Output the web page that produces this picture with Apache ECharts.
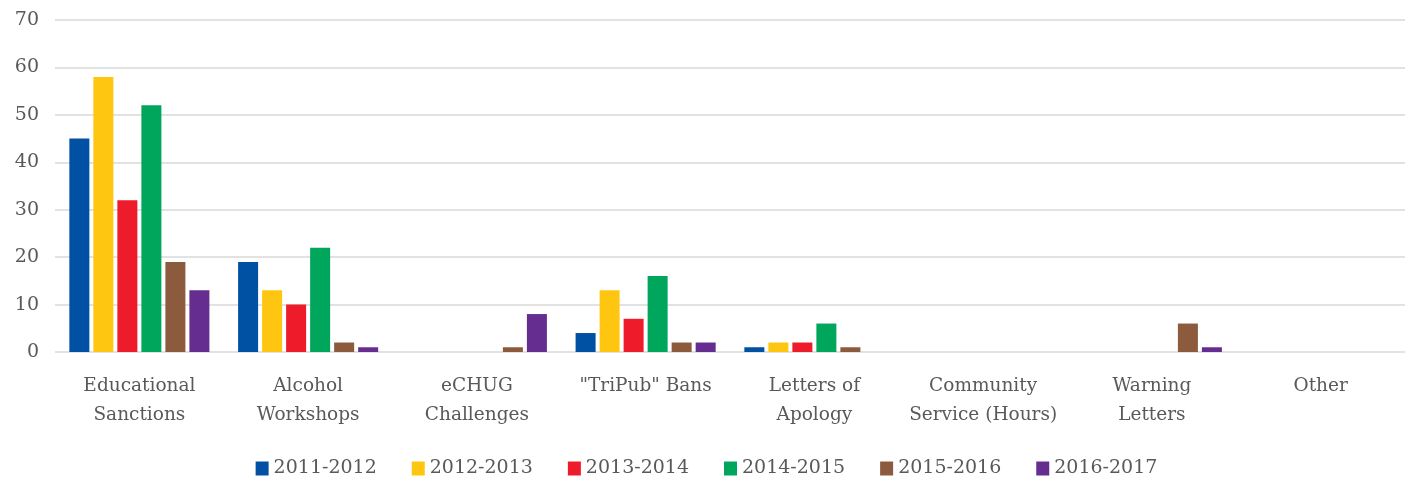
<!DOCTYPE html>
<html>
<head>
<meta charset="utf-8">
<script src="https://cdn.jsdelivr.net/npm/echarts@6/dist/echarts.min.js"></script>
<style>
  html, body { margin: 0; padding: 0; background: #fff; }
  #main_charts { width: 1413px; height: 478px; }
</style>
</head>
<body>
<div id="main_charts"></div>
<script>
var categories = ['Educational\nSanctions', 'Alcohol\nWorkshops', 'eCHUG\nChallenges', '"TriPub" Bans',
  'Letters of\nApology', 'Community\nService (Hours)', 'Warning\nLetters', 'Other'];
var years = ['2011-2012', '2012-2013', '2013-2014', '2014-2015', '2015-2016', '2016-2017'];
var colors = ['#0050A4', '#FFC611', '#EE1C2B', '#00A65B', '#8C5A3C', '#652D90'];

var y2011 = [45, 19, 0, 4, 1, 0, 0, 0];
var y2012 = [58, 13, 0, 13, 2, 0, 0, 0];
var y2013 = [32, 10, 0, 7, 2, 0, 0, 0];
var y2014 = [52, 22, 0, 16, 6, 0, 0, 0];
var y2015 = [19, 2, 1, 2, 1, 0, 6, 0];
var y2016 = [13, 1, 8, 2, 0, 0, 1, 0];
var allValues = [y2011, y2012, y2013, y2014, y2015, y2016];

var font = '"DejaVu Serif", "Liberation Serif", serif';

var myChart = echarts.init(document.getElementById('main_charts'));

var series = years.map(function (name, i) {
  return {
    name: name,
    type: 'bar',
    data: allValues[i],
    barGap: '20%',
    barCategoryGap: '17%',
    itemStyle: { color: colors[i] }
  };
});

var option = {
  animation: false,
  textStyle: { fontFamily: font },
  grid: { left: 55, right: 8, top: 20, bottom: 126 },
  legend: {
    top: 454,
    left: 'center',
    itemWidth: 13,
    itemHeight: 14,
    itemGap: 35,
    icon: 'rect',
    textStyle: { fontFamily: font, fontSize: 19, color: '#595959' },
    data: years
  },
  xAxis: {
    type: 'category',
    data: categories,
    axisLine: { show: false },
    axisTick: { show: false },
    axisLabel: { fontFamily: font, fontSize: 18.5, color: '#595959', lineHeight: 29, margin: 20, interval: 0 }
  },
  yAxis: {
    type: 'value',
    min: 0,
    max: 70,
    interval: 10,
    axisLabel: { fontFamily: font, fontSize: 19, color: '#595959', margin: 16 },
    splitLine: { lineStyle: { color: '#d9d9d9', width: 1.5 } }
  },
  series: series
};
myChart.setOption(option);
</script>
</body>
</html>
